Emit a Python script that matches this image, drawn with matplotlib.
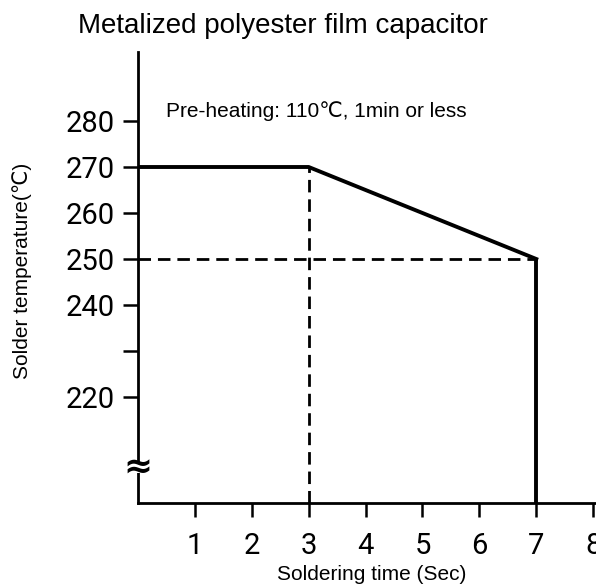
import matplotlib
matplotlib.use("Agg")
import matplotlib.pyplot as plt
from matplotlib.patches import Rectangle

# ---- data ----
time_s = [0, 3, 7]
temp_c = [270, 270, 250]
limit_time = 3
limit_temp = 250
y_ticks = [280, 270, 260, 250, 240, 230, 220]
y_tick_labels = ["280", "270", "260", "250", "240", "", "220"]
x_ticks = [1, 2, 3, 4, 5, 6, 7, 8]
x_tick_labels = ["1", "2", "3", "4", "5", "6", "7", "8"]
title = "Metalized polyester film capacitor"
note = "Pre-heating: 110\u2103, 1min or less"
xlabel = "Soldering time (Sec)"
ylabel = "Solder temperature(\u2103)"

TXT = "Liberation Sans"
TICKF = ["Roboto", "DejaVu Sans"]

fig = plt.figure(figsize=(5.96, 5.85), dpi=100)
ax = fig.add_axes([138 / 596, 82 / 585, 458.6 / 596, 451 / 585])
ax.set_xlim(0, 8.06)
ax.set_ylim(196.96, 295.0)

for s in ("top", "right"):
    ax.spines[s].set_visible(False)
for s in ("left", "bottom"):
    ax.spines[s].set_linewidth(2.0)

ax.set_yticks(y_ticks)
ax.set_yticklabels(y_tick_labels, fontfamily=TICKF, fontsize=21)
ax.set_xticks(x_ticks)
ax.set_xticklabels(x_tick_labels, fontfamily=TICKF, fontsize=21)
ax.tick_params(axis="y", direction="out", length=11, width=1.8, pad=6)
ax.tick_params(axis="x", direction="out", length=10, width=1.8, pad=11)

ymin = ax.get_ylim()[0]
# dashed guide lines
ax.plot([0, time_s[-1]], [limit_temp, limit_temp], color="black", lw=2.0,
        linestyle=(0, (4.5, 2.5)), clip_on=False)
ax.vlines(limit_time, ymin, temp_c[0], color="black", lw=2.0,
          linestyles=[(0, (4.5, 2.5))])
# solid profile
ax.plot(time_s, temp_c, color="black", lw=2.8, solid_joinstyle="round")
ax.vlines(time_s[-1], ymin, temp_c[-1], color="black", lw=2.8)

# axis break marker across the y axis
brk_y = 0.078
gap = Rectangle((-0.006, brk_y - 0.012), 0.012, 0.024, transform=ax.transAxes,
                fc="white", ec="none", clip_on=False, zorder=5)
ax.add_patch(gap)
ax.text(0, brk_y, "\u2248", transform=ax.transAxes, ha="center", va="center",
        fontsize=25, fontweight="bold", fontfamily="DejaVu Sans", zorder=6)

fig.text(283 / 596, (585 - 33) / 585, title, ha="center", va="baseline",
         fontsize=20, fontfamily=TXT)
fig.text(166 / 596, (585 - 117) / 585, note, ha="left", va="baseline",
         fontsize=15, fontfamily=[TXT, "DejaVu Sans"])
fig.text(372 / 596, (585 - 580) / 585, xlabel, ha="center", va="baseline",
         fontsize=15, fontfamily=TXT)
fig.text(22 / 596, (585 - 271) / 585, ylabel, ha="center", va="center",
         rotation=90, fontsize=15, fontfamily=[TXT, "DejaVu Sans"])

fig.savefig("out.png", dpi=100)
